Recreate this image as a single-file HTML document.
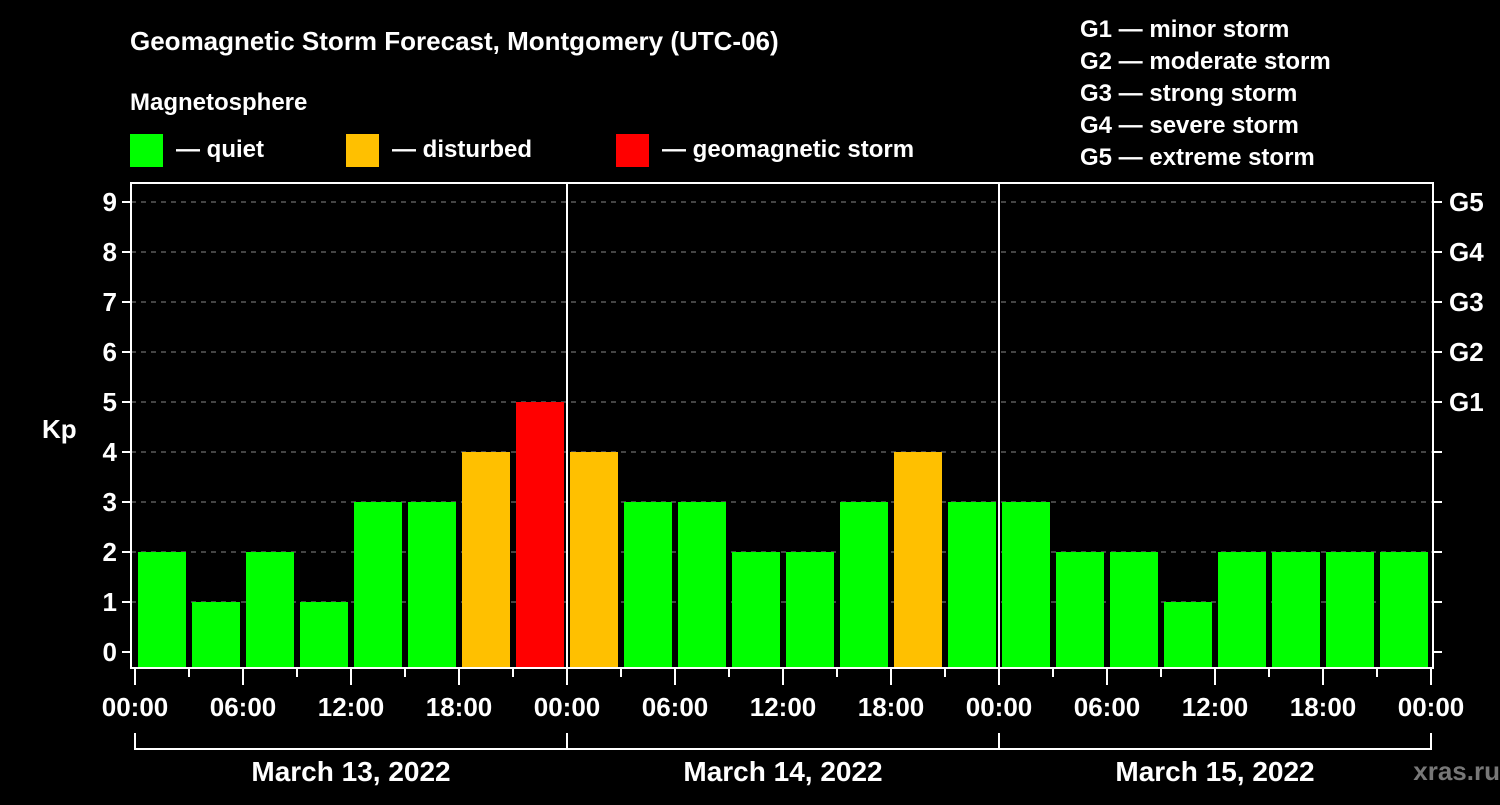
<!DOCTYPE html>
<html><head><meta charset="utf-8"><style>
body{margin:0;background:#000;width:1500px;height:800px;overflow:hidden}
text{font-family:"Liberation Sans",sans-serif;font-weight:bold;fill:#fff}
</style></head><body>
<svg width="1500" height="800" id="c">
<text x="130" y="50" font-size="26">Geomagnetic Storm Forecast, Montgomery (UTC-06)</text>
<text x="130" y="110" font-size="24">Magnetosphere</text>
<rect x="130" y="134" width="33" height="33" fill="#00ff00"/>
<text x="176" y="157" font-size="24">— quiet</text>
<rect x="346" y="134" width="33" height="33" fill="#ffc000"/>
<text x="392" y="157" font-size="24">— disturbed</text>
<rect x="616" y="134" width="33" height="33" fill="#ff0000"/>
<text x="662" y="157" font-size="24">— geomagnetic storm</text>
<g font-size="24">
<text x="1080" y="37">G1 — minor storm</text>
<text x="1080" y="69">G2 — moderate storm</text>
<text x="1080" y="101">G3 — strong storm</text>
<text x="1080" y="133">G4 — severe storm</text>
<text x="1080" y="165">G5 — extreme storm</text>
</g>
<text x="42" y="438" font-size="26">Kp</text>
<text x="1500" y="780" font-size="26" text-anchor="end" style="fill:#777">xras.ru</text>
<g id="plot"></g>
</svg>
<script>
const kpValues=[2,1,2,1,3,3,4,5,4,3,3,2,2,3,4,3,3,2,2,1,2,2,2,2];
const dateLabels=["March 13, 2022","March 14, 2022","March 15, 2022"];
const hourLabels=["00:00","06:00","12:00","18:00"];
const gLabels=["G1","G2","G3","G4","G5"];
const NS="http://www.w3.org/2000/svg";
const g=document.getElementById('plot');
const X0=135,DAY=432,L=131,R=1433,T=183,B=668;
const xs=h=>X0+h*DAY/24, ys=k=>652-k*50;
function el(t,a,p){const e=document.createElementNS(NS,t);for(const k in a)e.setAttribute(k,a[k]);(p||g).appendChild(e);return e;}
function color(k){return k>=5?'#ff0000':k>=4?'#ffc000':'#00ff00';}
for(let k=0;k<=9;k++){
  if(k>0){const d=el('line',{x1:L,x2:R,y1:ys(k),y2:ys(k),stroke:'#888','stroke-dasharray':'5,5','stroke-width':1});
  
  }
  const t=el('line',{x1:L-9,x2:L,y1:ys(k),y2:ys(k),stroke:'#fff','stroke-width':2});
  
  
  const t2=el('line',{x1:R,x2:R+9,y1:ys(k),y2:ys(k),stroke:'#fff','stroke-width':2});
  
  
  const lb=el('text',{x:117,y:ys(k)+9,'font-size':26,'text-anchor':'end'});lb.textContent=k;
  
  
  if(k>=5){const gl=el('text',{x:1449,y:ys(k)+9,'font-size':26});gl.textContent=gLabels[k-5];
  
  }
}
kpValues.forEach((v,i)=>{
  const x=xs(i*3)+3,w=xs(3)-xs(0)-6;
  const r=el('rect',{x:x,y:ys(v),width:w,height:B-ys(v),fill:color(v)});
  
  
});
for(let d=1;d<3;d++){const l=el('line',{x1:xs(d*24),x2:xs(d*24),y1:T,y2:B,stroke:'#fff','stroke-width':2});
  
  }
const f=el('rect',{x:L,y:T,width:R-L,height:B-T,fill:'none',stroke:'#fff','stroke-width':2});


for(let h=0;h<=72;h+=3){
  const maj=h%6===0;
  const t=el('line',{x1:xs(h),x2:xs(h),y1:B,y2:B+(maj?17:9),stroke:'#fff','stroke-width':2});
  
  
  if(maj){const lb=el('text',{x:xs(h),y:716,'font-size':26,'text-anchor':'middle'});lb.textContent=hourLabels[(h/6)%4];
  
  }
}
const br=el('path',{d:`M${xs(0)},733 V749 H${xs(72)} V733`,fill:'none',stroke:'#fff','stroke-width':2});


for(let d=1;d<3;d++){const l=el('line',{x1:xs(d*24),x2:xs(d*24),y1:733,y2:749,stroke:'#fff','stroke-width':2});
  
  }
dateLabels.forEach((s,d)=>{const t=el('text',{x:xs(d*24+12),y:781,'font-size':28,'text-anchor':'middle'});t.textContent=s;
  
  });
</script>
</body></html>
